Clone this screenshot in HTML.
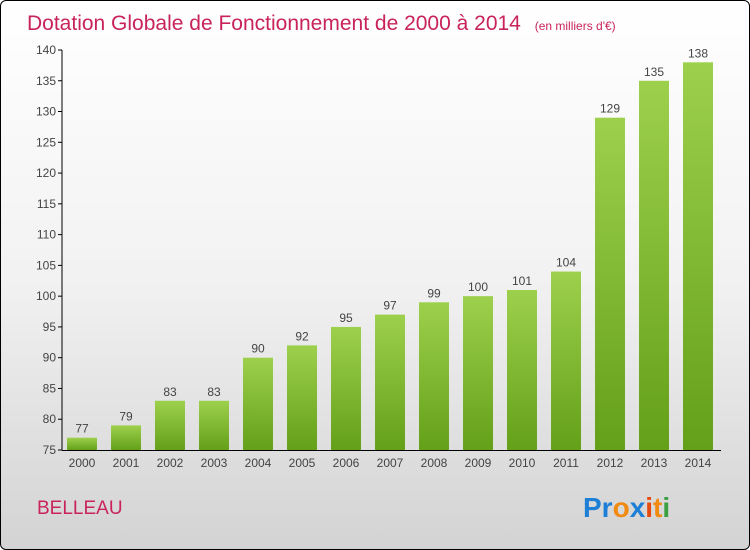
<!DOCTYPE html>
<html><head><meta charset="utf-8"><style>
body{margin:0;}
#c{position:relative;width:748px;height:548px;border:1px solid #000;border-radius:6px;background:linear-gradient(#fff 0%,#f2f2f2 50%,#d3d3d3 100%);overflow:hidden;font-family:"Liberation Sans",sans-serif;}
</style></head><body>
<div id="c">
<svg id="s" width="748" height="548">
<defs><linearGradient id="g" x1="0" y1="0" x2="0" y2="1"><stop offset="0" stop-color="#9dd04d"/><stop offset="1" stop-color="#64a01a"/></linearGradient></defs>
<text x="26" y="29" font-size="21" fill="#c8245a">Dotation Globale de Fonctionnement de 2000 à 2014 <tspan font-size="12" dx="8">(en milliers d'€)</tspan></text>
<text x="36" y="513" font-size="19" fill="#c8245a">BELLEAU</text>
<text x="582" y="516" font-size="28" font-weight="bold"><tspan fill="#1e7fd6">Pr</tspan><tspan fill="#f08a10">o</tspan><tspan fill="#1e7fd6">x</tspan><tspan fill="#e64a10">i</tspan><tspan fill="#f08a10">t</tspan><tspan fill="#3aa040">i</tspan></text>
<g id="plot"></g>
</svg>
</div>
<script>
const categories=["2000","2001","2002","2003","2004","2005","2006","2007","2008","2009","2010","2011","2012","2013","2014"];
const values=[77,79,83,83,90,92,95,97,99,100,101,104,129,135,138];
const yTicks=[75,80,85,90,95,100,105,110,115,120,125,130,135,140];
const ns="http://www.w3.org/2000/svg";
const plot=document.getElementById('plot');
const y0=449,y1=49,vmin=75,vmax=140;
function ys(v){return y0-(v-vmin)/(vmax-vmin)*(y0-y1);}
function xs(i){return 81+i*44;}
function mk(t,a,p){const e=document.createElementNS(ns,t);for(const k in a)e.setAttribute(k,a[k]);(p||plot).appendChild(e);return e;}
let ax=mk('line',{x1:61,y1:y1,x2:61,y2:y0,stroke:'#000'});


let bx=mk('line',{x1:61,y1:y0+0.5,x2:720,y2:y0+0.5,stroke:'#000'});


yTicks.forEach(v=>{
 const y=ys(v);
 mk('line',{x1:57,y1:y,x2:61,y2:y,stroke:'#000'});
 const t=mk('text',{x:55,y:y+4,'text-anchor':'end','font-size':12,fill:'#444'});
 t.textContent=v;
 
 
});
categories.forEach((c,i)=>{
 const x=xs(i),v=values[i],y=ys(v);
 const r=mk('rect',{x:x-15,y:y,width:30,height:y0-y,fill:'url(#g)'});
 
 
 const t=mk('text',{x:x,y:y-5,'text-anchor':'middle','font-size':12,fill:'#444'});
 t.textContent=v;
 
 
 const l=mk('text',{x:x,y:466,'text-anchor':'middle','font-size':12,fill:'#444'});
 l.textContent=c;
 
 
});
</script>
</body></html>
